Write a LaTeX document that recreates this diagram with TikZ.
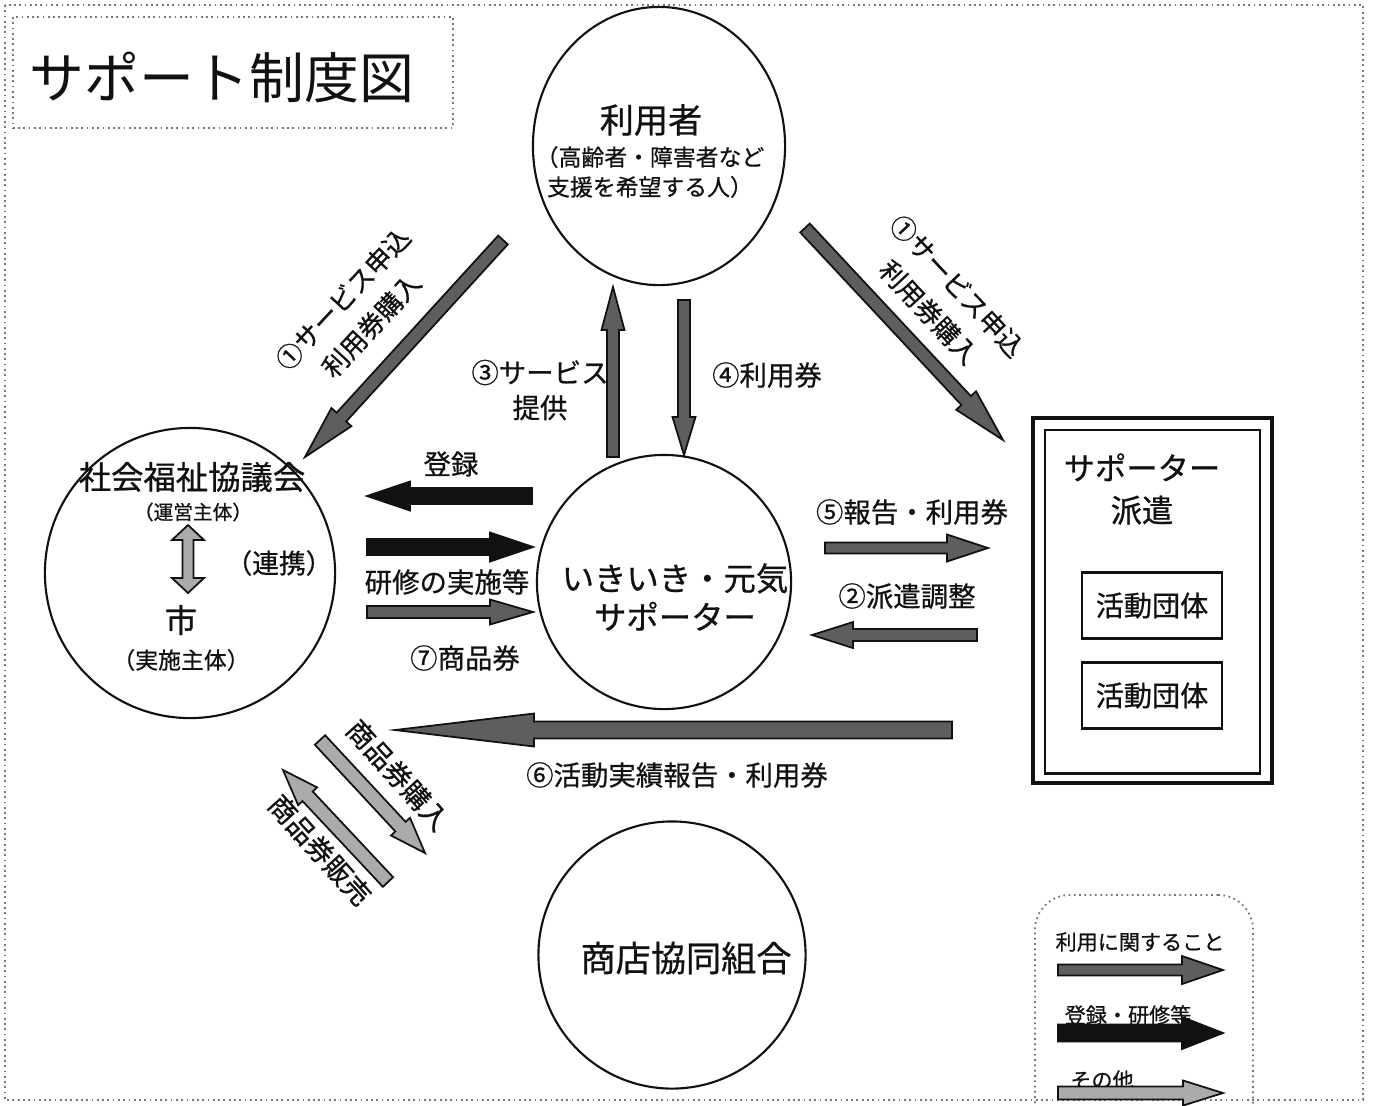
\documentclass[tikz,border=0pt]{standalone}
\usepackage{fontspec}
\setmainfont{Noto Sans CJK JP}[FakeBold=0.7]
\newfontfamily\titlefont{Noto Sans CJK JP}
\usetikzlibrary{calc, shapes.geometric}
\definecolor{ink}   {HTML}{111111}
\definecolor{frame} {HTML}{777777}
\definecolor{usefill}  {HTML}{5E5E5E}
\definecolor{otherfill}{HTML}{ABABAB}

% block arrow: style, from, to, shaft half width, head half width, head length
\newcommand{\blockarrow}[6]{%
  \coordinate (ba-base) at ($(#3)!#6!(#2)$);
  \filldraw[#1] ($(#2)!#4!90:(#3)$) -- ($(ba-base)!#4!-90:(#2)$)
    -- ($(ba-base)!#5!-90:(#2)$) -- (#3) -- ($(ba-base)!#5!90:(#2)$)
    -- ($(ba-base)!#4!90:(#2)$) -- ($(#2)!#4!-90:(#3)$) -- cycle;
}
% the same with a head at both ends
\newcommand{\twowayarrow}[6]{%
  \coordinate (tw-a) at ($(#2)!#6!(#3)$);
  \coordinate (tw-b) at ($(#3)!#6!(#2)$);
  \filldraw[#1] (#2) -- ($(tw-a)!#5!90:(#3)$) -- ($(tw-a)!#4!90:(#3)$)
    -- ($(tw-b)!#4!-90:(#2)$) -- ($(tw-b)!#5!-90:(#2)$) -- (#3)
    -- ($(tw-b)!#5!90:(#2)$) -- ($(tw-b)!#4!90:(#2)$)
    -- ($(tw-a)!#4!-90:(#3)$) -- ($(tw-a)!#5!-90:(#3)$) -- cycle;
}

\begin{document}
\begin{tikzpicture}[x=0.01cm, y=-0.01cm,
    bubble/.style={draw=ink, line width=0.6pt, ellipse, inner sep=0pt},
    txt/.style={inner sep=0pt, text=ink, align=center},
    fbig/.style={font=\fontsize{9.2pt}{11pt}\selectfont},
    fsub/.style={font=\fontsize{6.5pt}{8.5pt}\selectfont},
    farr/.style={font=\fontsize{7.8pt}{10pt}\selectfont},
    fdiag/.style={font=\fontsize{7.4pt}{11pt}\selectfont},
    fkey/.style={font=\fontsize{6pt}{7pt}\selectfont},
    dotframe/.style={draw=frame, densely dotted, line width=0.5pt},
    usearrow/.style={draw=ink, line width=0.5pt, fill=usefill},
    regarrow/.style={draw=ink, line width=0.5pt, fill=ink},
    otherarrow/.style={draw=ink, line width=0.5pt, fill=otherfill}]
  \useasboundingbox (0,0) rectangle (1373,1105);
  \draw[dotframe] (5,5) rectangle (1363,1100);

  % title
  \node[dotframe, minimum width=4.4cm, minimum height=1.11cm] (title) at (233,72.5) {};
  \node[txt, font=\titlefont\fontsize{15.6pt}{18pt}\selectfont] (titletext) at (222,77) {サポート制度図};

  % users
  \node[bubble, minimum width=2.52cm, minimum height=2.78cm] (users) at (659,146) {};
  \node[txt, fbig, font=\fontsize{9.7pt}{11pt}\selectfont] (usershead) at (651,120) {利用者};
  \node[txt, fsub] (usersnote) at (650,172) {（高齢者・障害者など\\支援を希望する人）};

  % council and city
  \node[bubble, minimum size=2.9cm] (council) at (190,573) {};
  \node[txt, fbig] (councilhead) at (192,477) {社会福祉協議会};
  \node[txt, font=\fontsize{5.6pt}{7pt}\selectfont] (councilnote) at (193,512) {（運営主体）};
  \node[txt, font=\fontsize{7.6pt}{9pt}\selectfont] (link) at (279,563) {（連携）};
  \node[txt, fbig] (city) at (181,620) {市};
  \node[txt, fsub] (citynote) at (181,660) {（実施主体）};

  % supporters
  \node[bubble, minimum size=2.54cm] (supporter) at (664,582) {};
  \node[txt, fbig] (supporterhead) at (675,597) {いきいき・元気\\サポーター};

  % shops
  \node[bubble, minimum size=2.67cm] (shops) at (672,955) {};
  \node[txt, font=\fontsize{10pt}{12pt}\selectfont] (shopshead) at (686,958) {商店協同組合};

  % dispatch box
  \node[draw=ink, line width=1.2pt, minimum width=2.39cm, minimum height=3.65cm] (dispatch) at (1152.5,600.5) {};
  \node[draw=ink, line width=0.8pt, minimum width=2.15cm, minimum height=3.43cm] (dispatchin) at (1152.5,601.5) {};
  \node[txt, font=\fontsize{8.9pt}{12pt}\selectfont] (dispatchhead) at (1142,489) {サポーター\\派遣};
  \node[txt, draw=ink, line width=0.6pt, minimum width=1.4cm, minimum height=0.66cm,
        font=\fontsize{8pt}{9pt}\selectfont] (group1) at (1152,605.5) {活動団体};
  \node[txt, draw=ink, line width=0.6pt, minimum width=1.4cm, minimum height=0.66cm,
        font=\fontsize{8pt}{9pt}\selectfont] (group2) at (1152,695.5) {活動団体};

  % arrow ends
  \coordinate (askL-a) at (503,240);  \coordinate (askL-b) at (305,457);
  \coordinate (askR-a) at (805,228);  \coordinate (askR-b) at (1003,440);
  \coordinate (serve-a) at (613,457); \coordinate (serve-b) at (613,287);
  \coordinate (ticket-a) at (684,300); \coordinate (ticket-b) at (684,455);
  \coordinate (reg-a) at (532,496);   \coordinate (reg-b) at (367,496);
  \coordinate (train-a) at (367,547); \coordinate (train-b) at (533,547);
  \coordinate (gift-a) at (367,612);  \coordinate (gift-b) at (533,612);
  \coordinate (report-a) at (825,548); \coordinate (report-b) at (988,548);
  \coordinate (adjust-a) at (977,635); \coordinate (adjust-b) at (812,635);
  \coordinate (result-a) at (952,730); \coordinate (result-b) at (395,730);
  \coordinate (buy-a) at (320,740);   \coordinate (buy-b) at (425,853);
  \coordinate (sell-a) at (388,882);  \coordinate (sell-b) at (283,770);
  \coordinate (link-a) at (188,525);  \coordinate (link-b) at (188,593);

  \blockarrow{usearrow}{askL-a}{askL-b}{0.65mm}{1.35mm}{5.4mm}
  \blockarrow{usearrow}{askR-a}{askR-b}{0.65mm}{1.35mm}{5.4mm}
  \blockarrow{usearrow}{serve-a}{serve-b}{0.6mm}{1.15mm}{4.3mm}
  \blockarrow{usearrow}{ticket-a}{ticket-b}{0.6mm}{1.15mm}{3.8mm}
  \blockarrow{regarrow}{reg-a}{reg-b}{0.8mm}{1.45mm}{4.3mm}
  \blockarrow{regarrow}{train-a}{train-b}{0.8mm}{1.45mm}{4.3mm}
  \blockarrow{usearrow}{gift-a}{gift-b}{0.6mm}{1.25mm}{4.3mm}
  \blockarrow{usearrow}{report-a}{report-b}{0.55mm}{1.35mm}{4.1mm}
  \blockarrow{usearrow}{adjust-a}{adjust-b}{0.6mm}{1.3mm}{4.1mm}
  \blockarrow{usearrow}{result-a}{result-b}{0.85mm}{1.65mm}{13.9mm}
  \blockarrow{otherarrow}{buy-a}{buy-b}{0.7mm}{1.3mm}{3.6mm}
  \blockarrow{otherarrow}{sell-a}{sell-b}{0.7mm}{1.3mm}{3.6mm}
  \twowayarrow{otherarrow}{link-a}{link-b}{0.55mm}{1.6mm}{1.5mm}

  % arrow labels
  \node[txt, fdiag, rotate=47] (askLtext) at (357,312) {①サービス申込\\利用券購入};
  \node[txt, fdiag, rotate=-47] (askRtext) at (943,299) {①サービス申込\\利用券購入};
  \node[txt, farr] (servetext) at (540,390) {③サービス\\提供};
  \node[txt, farr] (tickettext) at (767,375) {④利用券};
  \node[txt, farr] (regtext) at (451,464) {登録};
  \node[txt, farr] (traintext) at (447,582) {研修の実施等};
  \node[txt, farr] (gifttext) at (465,658) {⑦商品券};
  \node[txt, farr] (reporttext) at (912,512) {⑤報告・利用券};
  \node[txt, farr] (adjusttext) at (907,596) {②派遣調整};
  \node[txt, farr] (resulttext) at (677,775) {⑥活動実績報告・利用券};
  \node[txt, farr, rotate=-48] (buytext) at (398,775) {商品券購入};
  \node[txt, farr, rotate=-48] (selltext) at (320,850) {商品券販売};

  % legend
  \node[dotframe, rounded corners=3.5mm, minimum width=2.18cm, minimum height=2.4cm] (legend) at (1144,1015) {};
  \node[txt, fkey] (keyuse) at (1140,942) {利用に関すること};
  \node[txt, fkey] (keyreg) at (1128,1015) {登録・研修等};
  \node[txt, fkey] (keyother) at (1102,1080) {その他};
  \coordinate (keyuse-a) at (1058,970);   \coordinate (keyuse-b) at (1223,970);
  \coordinate (keyreg-a) at (1058,1033);  \coordinate (keyreg-b) at (1223,1033);
  \coordinate (keyother-a) at (1058,1093); \coordinate (keyother-b) at (1223,1093);
  \blockarrow{usearrow}{keyuse-a}{keyuse-b}{0.55mm}{1.4mm}{4.1mm}
  \blockarrow{regarrow}{keyreg-a}{keyreg-b}{0.85mm}{1.6mm}{4.1mm}
  \blockarrow{otherarrow}{keyother-a}{keyother-b}{0.65mm}{1.25mm}{4mm}
\end{tikzpicture}
\end{document}
